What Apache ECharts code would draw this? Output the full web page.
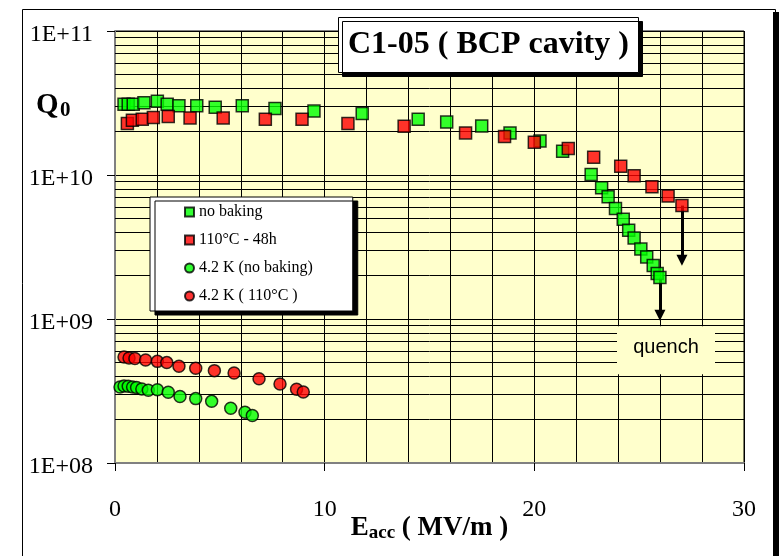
<!DOCTYPE html>
<html><head><meta charset="utf-8">
<script src="https://cdn.jsdelivr.net/npm/echarts@6/dist/echarts.min.js"></script>
<style>html,body{margin:0;padding:0;background:#fff}#c{width:779px;height:556px}</style>
</head><body><div id="c"></div>
<script>
// ---- data ----
const noBakingE = [0.43,0.63,0.87,1.38,2.02,2.49,3.05,3.90,4.78,6.07,7.63,9.49,11.79,14.46,15.82,17.49,18.84,20.27,21.35,22.71,23.21,23.52,23.87,24.24,24.50,24.76,25.08,25.36,25.67,25.86,25.99];
const noBakingQ = [3.10e10,3.10e10,3.10e10,3.18e10,3.25e10,3.10e10,3.03e10,3.03e10,2.96e10,3.03e10,2.90e10,2.78e10,2.67e10,2.44e10,2.33e10,2.19e10,1.96e10,1.72e10,1.46e10,1.01e10,8.15e9,7.06e9,5.85e9,4.92e9,4.13e9,3.65e9,3.06e9,2.70e9,2.35e9,2.07e9,1.94e9];
const bakedE = [0.59,0.83,1.30,1.83,2.54,3.58,5.16,7.17,8.92,11.11,13.79,16.72,18.58,20.00,21.62,22.83,24.12,24.76,25.61,26.38,27.04];
const bakedQ = [2.28e10,2.40e10,2.44e10,2.51e10,2.55e10,2.49e10,2.49e10,2.44e10,2.44e10,2.28e10,2.18e10,1.96e10,1.85e10,1.69e10,1.53e10,1.33e10,1.15e10,9.87e9,8.30e9,7.15e9,6.13e9];
const k42NoBakingE = [0.24,0.43,0.63,0.84,1.03,1.28,1.59,2.02,2.54,3.10,3.85,4.61,5.52,6.20,6.55];
const k42NoBakingQ = [3.37e8,3.43e8,3.41e8,3.37e8,3.34e8,3.27e8,3.20e8,3.23e8,3.10e8,2.90e8,2.80e8,2.68e8,2.40e8,2.25e8,2.14e8];
const k42BakedE = [0.43,0.67,0.95,1.46,2.02,2.47,3.05,3.85,4.74,5.68,6.87,7.87,8.66,8.98];
const k42BakedQ = [5.45e8,5.36e8,5.31e8,5.19e8,5.08e8,4.98e8,4.70e8,4.55e8,4.38e8,4.22e8,3.85e8,3.54e8,3.25e8,3.11e8];
const seriesNames = ['no baking','110°C - 48h','4.2 K (no baking)','4.2 K ( 110°C )'];
const yTickLabels = {8:'1E+08',9:'1E+09',10:'1E+10',11:'1E+11'};
const minorGridQ = [2e8,3e8,4e8,5e8,6e8,7e8,8e8,9e8,2e9,3e9,4e9,5e9,6e9,7e9,8e9,9e9,2e10,3e10,4e10,5e10,6e10,7e10,8e10,9e10];
// quench arrows: [E, Q start, Q end]
const quenchArrows = [[27.04,6.13e9,2.56e9],[25.99,1.94e9,1.06e9]];
const quenchLabel = {text:'quench', E:26.28, Q:6.07e8};
const titleText = 'C1-05 ( BCP cavity )';

const zip = (a,b) => a.map((v,i)=>[v,b[i]]);
const serif = 'Liberation Serif';

const chart = echarts.init(document.getElementById('c'), null, {renderer:'canvas'});
chart.setOption({
  animation:false,
  backgroundColor:'#fff',
  title:{
    text:titleText, left:338, top:17, padding:[12,10,12,10], z:20,
    backgroundColor:'#fff', borderColor:'#000', borderWidth:1,
    shadowColor:'#000', shadowBlur:0, shadowOffsetX:4, shadowOffsetY:4,
    textStyle:{fontFamily:serif, fontWeight:'bold', fontSize:32, color:'#000'}
  },
  legend:{
    data:[{name:seriesNames[0],icon:'rect'},{name:seriesNames[1],icon:'rect'},{name:seriesNames[2],icon:'circle'},{name:seriesNames[3],icon:'circle'}],
    orient:'vertical', left:150, top:197, itemWidth:9, itemHeight:9, itemGap:10, z:20,
    padding:[6,40,6,34], backgroundColor:'#fff', borderColor:'#000', borderWidth:1,
    shadowColor:'#000', shadowBlur:0, shadowOffsetX:5, shadowOffsetY:4,
    textStyle:{fontFamily:serif, fontSize:16, color:'#000', lineHeight:18},
    selectedMode:false
  },
  grid:{left:115, top:31, right:35, bottom:93, show:true, outerBoundsMode:'none', containLabel:false,
    backgroundColor:'#FFFFCC', borderColor:'#000', borderWidth:1},
  xAxis:{
    type:'value', min:0, max:30, interval:10,
    name:'{b|E}{s|acc}{b| ( MV/m )}', nameLocation:'middle', nameGap:51, nameMoveOverlap:false,
    nameTextStyle:{rich:{
      b:{fontFamily:serif, fontWeight:'bold', fontSize:27, color:'#000'},
      s:{fontFamily:serif, fontWeight:'bold', fontSize:19, color:'#000', padding:[10,0,0,0]}
    }},
    axisLine:{show:true, onZero:false, lineStyle:{color:'#808080', width:2}},
    axisTick:{show:true, length:8, lineStyle:{color:'#000'}},
    axisLabel:{margin:35, fontFamily:serif, fontSize:24, color:'#000'},
    splitLine:{show:true, lineStyle:{color:'#000', width:1}},
    minorTick:{show:false, splitNumber:5},
    minorSplitLine:{show:true, lineStyle:{color:'#000', width:1}}
  },
  yAxis:{
    type:'log', logBase:10, min:1e8, max:1e11, splitNumber:3,
    axisLine:{show:true, onZero:false, lineStyle:{color:'#808080', width:2}},
    axisTick:{show:true, length:8, lineStyle:{color:'#000'}},
    axisLabel:{margin:22,
      formatter:v=>'{a|'+yTickLabels[Math.round(Math.log10(v))]+'}',
      rich:{a:{fontFamily:serif, fontSize:24, color:'#000', padding:[7,0,0,0]}}},
    splitLine:{show:true, lineStyle:{color:'#000', width:1}}
  },
  graphic:[
    {type:'rect', left:773, top:12, shape:{width:6,height:560}, style:{fill:'#000'}, silent:true},
    {type:'rect', left:20, top:7, shape:{width:753,height:600}, style:{fill:null, stroke:'#000', lineWidth:1}, silent:true},
    {type:'text', left:36, top:91, style:{text:'Q', font:'bold 29px "Liberation Serif"', fill:'#000'}},
    {type:'text', left:60, top:100, style:{text:'0', font:'bold 21px "Liberation Serif"', fill:'#000'}}
  ],
  series:[
    {name:'minorGrid', type:'line', data:[], z:1, silent:true,
     markLine:{z:1, silent:true, symbol:['none','none'], label:{show:false},
       lineStyle:{color:'#000', width:1, type:'solid'},
       data:minorGridQ.map(q=>({yAxis:q}))}},
    {name:'arrows', type:'line', data:[], z:2, silent:true,
     markLine:{z:2, silent:true, symbol:['none','triangle'], symbolSize:[11,11], label:{show:false},
       lineStyle:{color:'#000', width:3, type:'solid'},
       data:quenchArrows.map(a=>[{coord:[a[0],a[1]]},{coord:[a[0],a[2]]}])},
     markPoint:{z:2, silent:true, symbol:'rect', symbolSize:[98,48],
       itemStyle:{color:'#FFFFCC'},
       label:{show:true, formatter:quenchLabel.text, fontFamily:'Liberation Sans', fontSize:20, color:'#000', offset:[0,-3]},
       data:[{coord:[quenchLabel.E, quenchLabel.Q]}]}},
    {name:seriesNames[0], type:'scatter', symbol:'rect', symbolSize:12, z:3, data:zip(noBakingE,noBakingQ),
     itemStyle:{color:'#00FF00', borderColor:'#000', borderWidth:1.5}},
    {name:seriesNames[1], type:'scatter', symbol:'rect', symbolSize:12, z:3, data:zip(bakedE,bakedQ),
     itemStyle:{color:'#FF0000', borderColor:'#000', borderWidth:1.5}},
    {name:seriesNames[2], type:'scatter', symbol:'circle', symbolSize:12, z:3, data:zip(k42NoBakingE,k42NoBakingQ),
     itemStyle:{color:'#00FF00', borderColor:'#000', borderWidth:1.5}},
    {name:seriesNames[3], type:'scatter', symbol:'circle', symbolSize:12, z:3, data:zip(k42BakedE,k42BakedQ),
     itemStyle:{color:'#FF0000', borderColor:'#000', borderWidth:1.5}}
  ]
});
</script></body></html>
